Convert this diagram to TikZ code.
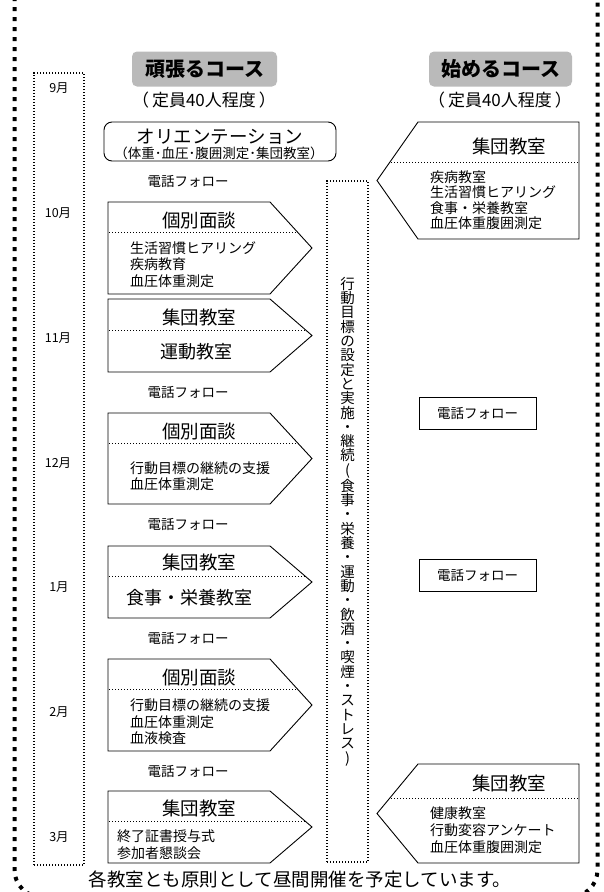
\documentclass[tikz,border=0pt]{standalone}
\usepackage{fontspec}
\setmainfont{Noto Sans CJK JP}
\usetikzlibrary{calc}

% box pointing right: top, bottom, separator
\newcommand{\pentR}[3]{%
  \begin{scope}
    \clip (108,#1) -- (270,#1) -- (312,{(#1+#2)/2}) -- (270,#2) -- (108,#2) -- cycle;
    \draw[sepline] (100,#3) -- (320,#3);
  \end{scope}
  \draw[boxline] (108,#1) -- (270,#1) -- (312,{(#1+#2)/2}) -- (270,#2) -- (108,#2) -- cycle;
}
% box pointing left: top, bottom, separator
\newcommand{\pentL}[3]{%
  \begin{scope}
    \clip (579,#1) -- (418,#1) -- (377,{(#1+#2)/2}) -- (418,#2) -- (579,#2) -- cycle;
    \draw[sepline] (370,#3) -- (585,#3);
  \end{scope}
  \draw[boxline] (579,#1) -- (418,#1) -- (377,{(#1+#2)/2}) -- (418,#2) -- (579,#2) -- cycle;
}

\begin{document}
\begin{tikzpicture}[x=1pt, y=-1pt]
% Styles
\tikzset{
    boxline/.style={line width=0.9pt, line join=miter},
    sepline/.style={line width=1pt, dash pattern=on 1.2pt off 1.8pt},
    dotbox/.style={draw, line width=1.1pt, dash pattern=on 1.1pt off 1.9pt, inner sep=0pt},
    course/.style={fill=black!27, rounded corners=5pt, minimum width=145pt, minimum height=35pt,
        inner sep=0pt, font=\bfseries\fontsize{20}{20}\selectfont},
    sub/.style={font=\fontsize{17}{17}\selectfont, inner sep=0pt},
    month/.style={font=\fontsize{12.5}{12.5}\selectfont, inner sep=0pt},
    title/.style={font=\fontsize{18.5}{18.5}\selectfont, inner sep=0pt},
    big/.style={font=\fontsize{18}{18}\selectfont, inner sep=0pt},
    body/.style={font=\fontsize{14}{16.5}\selectfont, align=left, anchor=west, inner sep=0pt},
    call/.style={font=\fontsize{13.5}{13.5}\selectfont, inner sep=0pt},
    callbox/.style={draw, line width=0.9pt, minimum width=117pt, minimum height=32pt,
        font=\fontsize{13.5}{13.5}\selectfont},
    frame/.style={line width=4pt, dash pattern=on 4pt off 6pt}
}
\useasboundingbox (0,0) rectangle (603,892);
\clip (0,0) rectangle (603,892);

% Frame
\draw[frame, rounded corners=27pt] (14.5,-40) rectangle (597.5,897);

% Headers
\node[course] (hardhead) at (204.5,69) {頑張るコース};
\node[sub] (hardcap) at (204,100) {（\hspace{3pt}定員40人程度\hspace{3pt}）};
\node[course, minimum width=143pt] (easyhead) at (500.5,69) {始めるコース};
\node[sub] (easycap) at (500,100) {（\hspace{3pt}定員40人程度\hspace{3pt}）};

% Months
\node[dotbox, minimum width=50pt, minimum height=792pt] (months) at (59,469) {};
\node[month] (m9) at (59,88) {9月};
\node[month] (m10) at (58,213) {10月};
\node[month] (m11) at (58,338) {11月};
\node[month] (m12) at (58,463) {12月};
\node[month] (m1) at (59,587) {1月};
\node[month] (m2) at (59,712) {2月};
\node[month] (m3) at (59,837) {3月};

% Orientation
\draw[boxline, rounded corners=8pt] (104,122) rectangle (336,161);
\node[title] (orient) at (220,136.5) {オリエンテーション};
\node[font=\fontsize{13.5}{13.5}\selectfont, inner sep=0pt] (orientsub) at (219,153.5)
    {（体重･血圧･腹囲測定･集団教室）};

% Left course
\node[call] (call1) at (188,181) {電話フォロー};
\pentR{202}{294}{232}
\node[title] (talk1) at (199,220) {個別面談};
\node[body] (talk1txt) at (130,264.5) {生活習慣ヒアリング\\疾病教育\\血圧体重測定};

\pentR{299}{372}{330}
\node[title] (class1) at (199,317) {集団教室};
\node[big] (class1txt) at (196,352) {運動教室};

\node[call] (call2) at (188,392) {電話フォロー};
\pentR{413}{504}{443}
\node[title] (talk2) at (199,431) {個別面談};
\node[body] (talk2txt) at (130,476) {行動目標の継続の支援\\血圧体重測定};

\node[call] (call3) at (188,524) {電話フォロー};
\pentR{546}{618}{576}
\node[title] (class2) at (199,562) {集団教室};
\node[big] (class2txt) at (189,598) {食事・栄養教室};

\node[call] (call4) at (188,638) {電話フォロー};
\pentR{659}{751}{689}
\node[title] (talk3) at (199,677) {個別面談};
\node[body] (talk3txt) at (130,722) {行動目標の継続の支援\\血圧体重測定\\血液検査};

\node[call] (call5) at (188,771) {電話フォロー};
\pentR{791}{863}{821}
\node[title] (class3) at (199,808) {集団教室};
\node[body] (class3txt) at (117,844.5) {終了証書授与式\\参加者懇談会};

% Goals
\node[dotbox, minimum width=41pt, minimum height=681pt, align=center,
    font=\fontsize{14.5}{14.3}\selectfont] (goal) at (347.5,521.5)
    {行\\動\\目\\標\\の\\設\\定\\と\\実\\施\\・\\継\\続\\(\\食\\事\\・\\栄\\養\\・\\運\\動\\・\\飲\\酒\\・\\喫\\煙\\・\\ス\\ト\\レ\\ス\\)};

% Right course
\pentL{122}{239}{162}
\node[title] (rclass1) at (509,146) {集団教室};
\node[body, font=\fontsize{14}{15.5}\selectfont] (rclass1txt) at (430,200)
    {疾病教室\\生活習慣ヒアリング\\食事・栄養教室\\血圧体重腹囲測定};

\node[callbox] (rcall1) at (477.5,413) {電話フォロー};
\node[callbox] (rcall2) at (477.5,575) {電話フォロー};

\pentL{764}{863}{798}
\node[title] (rclass2) at (509,783) {集団教室};
\node[body, font=\fontsize{14}{17}\selectfont] (rclass2txt) at (430,830)
    {健康教室\\行動変容アンケート\\血圧体重腹囲測定};

% Note
\node[font=\fontsize{18.5}{18.5}\selectfont, inner sep=0pt] (note) at (300,879)
    {各教室とも原則として昼間開催を予定しています。};
\end{tikzpicture}
\end{document}
